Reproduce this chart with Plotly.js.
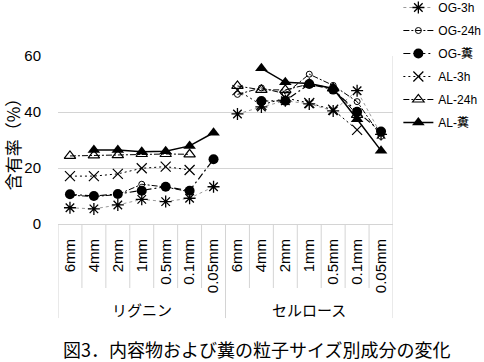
<!DOCTYPE html>
<html>
<head>
<meta charset="utf-8">
<script src="https://cdn.plot.ly/plotly-3.0.1.min.js"></script>
<style>html,body{margin:0;padding:0;background:#fff;}#chart{width:484px;height:362px;}</style>
</head>
<body>
<div id="chart"></div>
<script>
// ---- data ----
const sizes = ['6mm','4mm','2mm','1mm','0.5mm','0.1mm','0.05mm'];
const groups = ['リグニン','セルロース'];
const seriesNames = ['OG-3h','OG-24h','OG-糞','AL-3h','AL-24h','AL-糞'];

// リグニン
const OG3h_L  = [5.8, 5.4, 6.8, 8.8, 8.0, 9.2, 13.3];
const OG24h_L = [10.3, 9.8, 10.5, 14.2, 13.2, 11.5, null];
const OGfe_L  = [10.6, 10.0, 10.7, 11.9, 13.3, 11.9, 23.1];
const AL3h_L  = [17.1, 17.1, 17.9, 19.9, 20.5, 19.3, null];
const AL24h_L = [24.3, 24.5, 24.6, 25.0, 25.0, 24.9, null];
const ALfe_L  = [null, 26.4, 26.4, 25.8, 26.0, 27.9, 32.6];

// セルロース
const OG3h_C  = [39.3, 41.8, 44.0, 42.9, 40.4, 47.6, 32.0];
const OG24h_C = [46.3, 48.6, 46.5, 53.5, 49.5, 43.7, 31.3];
const OGfe_C  = [null, 43.9, 44.0, 50.0, 48.0, 40.1, 33.0];
const AL3h_C  = [47.8, 42.5, 45.0, 43.2, 40.8, 33.6, null];
const AL24h_C = [49.3, 47.9, 47.9, 50.0, 48.5, 39.0, null];
const ALfe_C  = [null, 55.6, 50.6, 50.2, 48.4, 37.4, 26.2];

const yTicks = [0, 20, 40, 60];

// ---- styles ----
const LAT = 'Liberation Sans, Arial, Noto Sans CJK JP, sans-serif';
const styles = [
  {line:{color:'#9a9a9a', width:1, dash:'3px,3px'}, marker:{symbol:'asterisk-open', size:10, color:'#000', line:{color:'#000', width:1.3}}},
  {line:{color:'#000', width:1, dash:'6px,2px,2px,2px'}, marker:{symbol:'circle-open', size:6, color:'#000', line:{color:'#000', width:1}}},
  {line:{color:'#000', width:1.2, dash:'7px,3px,2px,3px'}, marker:{symbol:'circle', size:10, color:'#000'}},
  {line:{color:'#000', width:1, dash:'2px,3px'}, marker:{symbol:'x-thin-open', size:10, color:'#000', line:{color:'#000', width:1.2}}},
  {line:{color:'#000', width:1, dash:'6px,2px,2px,2px'}, marker:{symbol:'triangle-up-open', size:10, color:'#000', line:{color:'#000', width:1.2}}},
  {line:{color:'#000', width:1.5}, marker:{symbol:'triangle-up', size:11, color:'#000'}}
];
const dataL = [OG3h_L, OG24h_L, OGfe_L, AL3h_L, AL24h_L, ALfe_L];
const dataC = [OG3h_C, OG24h_C, OGfe_C, AL3h_C, AL24h_C, ALfe_C];

const nS = sizes.length;
const xL = sizes.map((s,i)=>i);
const xC = sizes.map((s,i)=>i+nS);

const traces = [];
seriesNames.forEach((name,k)=>{
  traces.push(Object.assign({type:'scatter', mode:'lines+markers', name:name, legendgroup:name,
    x:xL, y:dataL[k], connectgaps:false, showlegend:true}, JSON.parse(JSON.stringify(styles[k]))));
});
seriesNames.forEach((name,k)=>{
  traces.push(Object.assign({type:'scatter', mode:'lines+markers', name:name, legendgroup:name,
    x:xC, y:dataC[k], connectgaps:false, showlegend:false}, JSON.parse(JSON.stringify(styles[k]))));
});

// ---- axis decorations ----
const gridC = '#d4d4d4';
const shapes = [];
const total = nS*groups.length;
for (let k=0;k<=total;k++){
  const xb = k-0.5;
  const isGroup = (k % nS === 0);
  shapes.push({type:'line', xref:'x', yref:'paper', x0:xb, x1:xb,
    y0:(k===total?1:0), y1:(isGroup?-0.56:-0.381), line:{color:gridC, width:1}});
}
const annotations = groups.map((g,gi)=>({
  xref:'x', yref:'paper', x:gi*nS+(nS-1)/2, y:-0.51, text:g, showarrow:false,
  font:{family:'Noto Sans CJK JP', size:15, color:'#000'}, yanchor:'middle'
}));
annotations.push({xref:'paper', yref:'paper', x:0.594, y:-0.744, xanchor:'center', yanchor:'middle',
  showarrow:false, text:'図3．内容物および糞の粒子サイズ別成分の変化',
  font:{family:'Noto Sans CJK JP', size:18, color:'#000'}});

const tickvals = [], ticktext = [];
groups.forEach((g,gi)=>sizes.forEach((s,i)=>{tickvals.push(gi*nS+i); ticktext.push(s);}));

const layout = {
  width:484, height:362,
  margin:{l:58, r:91, t:56, b:138, autoexpand:false},
  paper_bgcolor:'#fff', plot_bgcolor:'#fff',
  font:{family:LAT, color:'#000'},
  showlegend:true,
  legend:{x:1.016, xanchor:'left', y:1.375, yanchor:'top', bgcolor:'rgba(0,0,0,0)',
    font:{family:LAT, size:12, color:'#000'}, tracegroupgap:4, itemwidth:30},
  xaxis:{range:[-0.5, total-0.5], tickmode:'array', tickvals:tickvals, ticktext:ticktext,
    tickangle:-90, showgrid:false, zeroline:false, showline:true, linecolor:gridC, ticks:'',
    ticklabelstandoff:8, tickfont:{family:LAT, size:15, color:'#000'}, fixedrange:true},
  yaxis:{range:[0,60], tickmode:'array', tickvals:yTicks, showgrid:true, gridcolor:gridC,
    zeroline:false, showline:false, ticks:'', ticklabelstandoff:16,
    tickfont:{family:LAT, size:15, color:'#000'},
    title:{text:'含有率（%）', font:{family:'Noto Sans CJK JP', size:17, color:'#000'}, standoff:5}},
  shapes:shapes,
  annotations:annotations
};

Plotly.newPlot('chart', traces, layout, {displayModeBar:false, staticPlot:true});
</script>
</body>
</html>
